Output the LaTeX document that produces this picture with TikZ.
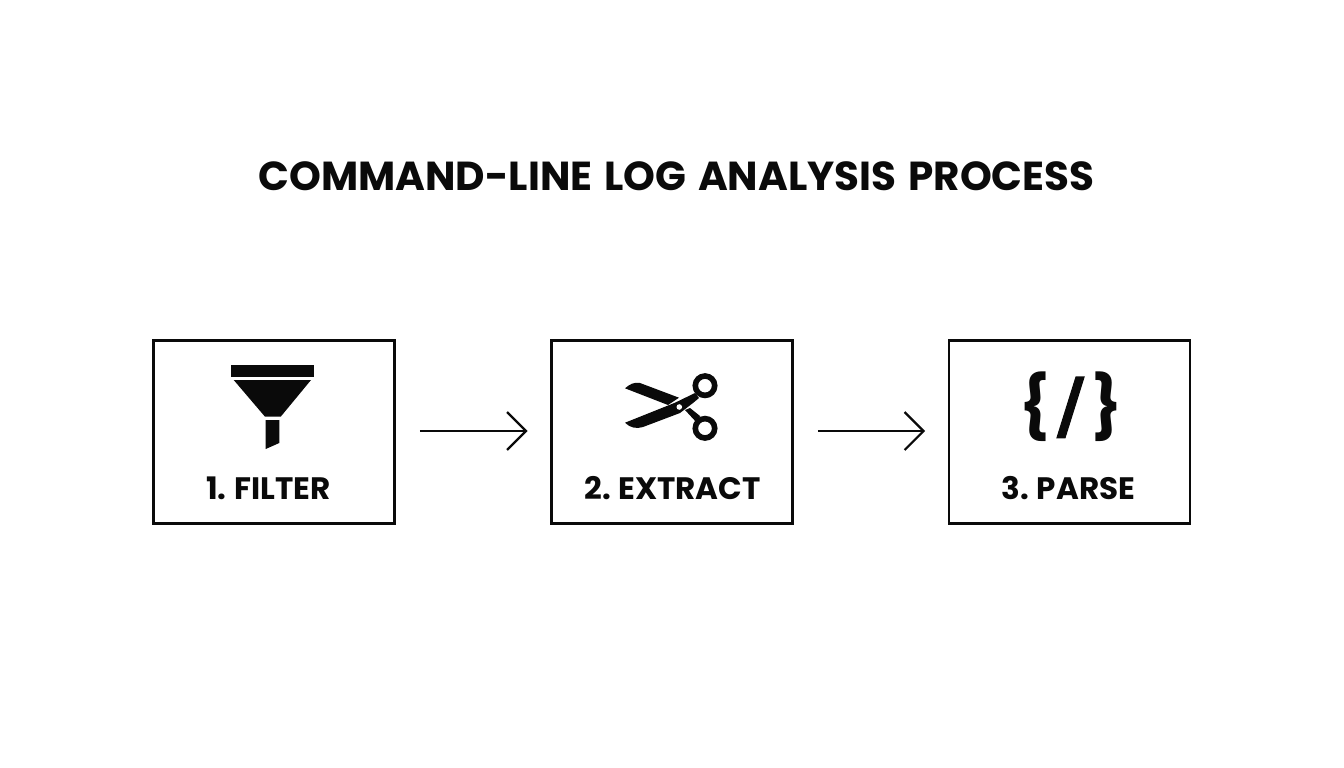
\documentclass[tikz,border=0pt]{standalone}
\usepackage{fontspec}
\setmainfont{Poppins}[BoldFont={* Bold},BoldFeatures={WordSpace=0.8}]
\newfontfamily\iconfont[FakeBold=1.5]{DejaVu Sans Bold}
\usetikzlibrary{arrows.meta}
\definecolor{ink}{HTML}{0A0A0A}
\tikzset{
  x=1pt,y=-1pt,
  stepbox/.style={draw=ink,line width=2.8pt,minimum width=241pt,minimum height=183pt,inner sep=0pt},
  flow/.style={draw=ink,line width=2.2pt,-{Straight Barb[length=19pt,width=38pt,line width=2.2pt]},shorten <=24pt,shorten >=22.5pt},
  steplabel/.style={text=ink,font=\bfseries\fontsize{31}{31}\selectfont,inner sep=0pt,anchor=base},
  icon/.style={fill=ink,draw=none},
}
\newcommand{\tsp}{\kern5pt\ }
\begin{document}
\begin{tikzpicture}
\useasboundingbox (0,0) rectangle (1344,768);
\fill[white] (0,0) rectangle (1344,768);
\node[text=ink,font=\bfseries\fontsize{40.5}{41}\selectfont,inner sep=0pt,anchor=base] (title) at (676.5,190) {COMMAND-LINE\tsp LOG\tsp ANALYSIS\tsp PROCESS};
\node[stepbox] (b1) at (274,432) {};
\node[stepbox] (b2) at (672,432) {};
\node[stepbox] (b3) at (1069.5,432) {};
\draw[flow] ([yshift=1pt]b1.east) -- ([yshift=1pt]b2.west);
\draw[flow] ([yshift=1pt]b2.east) -- ([yshift=1pt]b3.west);
\node[steplabel] (l1) at (268.5,499) {1.\kern3pt\ FILTER};
\node[steplabel] (l2) at (672.5,499) {2. EXTRACT};
\node[steplabel] (l3) at (1068.5,499) {3. PARSE};
% funnel
\fill[icon] (231,365.3) rectangle (313.5,376.7);
\fill[icon] (233.7,380) -- (311,380) -- (280.7,416.7) -- (265,416.7) -- cycle;
\fill[icon] (265.7,420) -- (279.3,420) -- (279.3,443) -- (265.7,449) -- cycle;
% scissors
\draw[ink,line width=5.6pt] (705,385.7) circle[radius=9.7];
\draw[ink,line width=5.6pt] (705,428.3) circle[radius=9.7];
\fill[icon] (625,388.3) .. controls (630,384) and (634,382) .. (640,383) -- (679,397.7) -- (668,405) -- cycle;
\fill[icon] (625,422.7) -- (675,402.7) -- (695,393) -- (699,398) -- (693,403) -- (680,413) -- (643,427) .. controls (637,429) and (630,428) .. cycle;
\fill[icon] (685,410) -- (690,408) -- (700,416) -- (697,423) -- cycle;
\fill[white] (679.3,407) circle[radius=2.8];
% braces and slash
\node[text=ink,font=\bfseries\fontsize{62}{62}\selectfont,inner sep=0pt,anchor=base] (i3) at (1070.5,428) {\{\kern7pt\raisebox{-3pt}{\iconfont\fontsize{74}{74}\selectfont/}\kern7pt\}};
\end{tikzpicture}
\end{document}
